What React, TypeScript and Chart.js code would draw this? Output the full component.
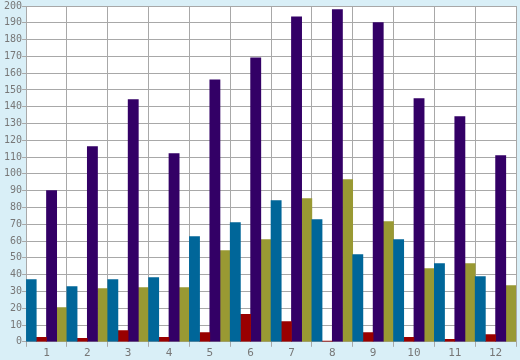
import React, { useEffect, useRef } from "react";
import { Chart, registerables } from "chart.js";

Chart.register(...registerables);

const categories = ["1", "2", "3", "4", "5", "6", "7", "8", "9", "10", "11", "12"];
const tealValues = [37.1, 32.9, 37.1, 38.3, 62.7, 71.0, 84.1, 72.8, 52.0, 60.9, 46.6, 38.9];
const redValues = [2.7, 2.0, 6.7, 2.7, 5.5, 16.3, 12.1, 0.4, 5.5, 2.6, 1.4, 4.3];
const purpleValues = [90.0, 116.2, 144.2, 112.1, 156.1, 169.2, 193.6, 197.8, 190.1, 144.8, 134.1, 110.9];
const oliveValues = [20.4, 31.7, 32.3, 32.3, 54.3, 60.9, 85.3, 96.6, 71.6, 43.6, 46.6, 33.5];
const yMin = 0;
const yMax = 200;
const yStep = 10;

const bgPlugin = {
  id: "bgPlugin",
  beforeDraw(chart: any) {
    const { ctx, chartArea, width, height } = chart;
    ctx.save();
    ctx.fillStyle = "#d9eff7";
    ctx.fillRect(0, 0, width, height);
    ctx.fillStyle = "#ffffff";
    ctx.fillRect(chartArea.left, chartArea.top, chartArea.right - chartArea.left, chartArea.bottom - chartArea.top);
    ctx.restore();
  },
};

export default function App() {
  const ref = useRef<HTMLCanvasElement>(null);
  useEffect(() => {
    document.body.style.margin = "0";
    const font = { family: "'DejaVu Sans Mono', monospace", size: 10 };
    const chart = new Chart(ref.current!, {
      type: "bar",
      data: {
        labels: categories,
        datasets: [
          { data: tealValues, backgroundColor: "#006699" },
          { data: redValues, backgroundColor: "#990000" },
          { data: purpleValues, backgroundColor: "#330066" },
          { data: oliveValues, backgroundColor: "#999933" },
        ],
      },
      options: {
        animation: false,
        responsive: false,
        devicePixelRatio: 1,
        layout: { padding: { top: -1, right: 4, bottom: 0, left: 4 } },
        plugins: { legend: { display: false }, tooltip: { enabled: false } },
        datasets: { bar: { barPercentage: 1, categoryPercentage: 1 } },
        scales: {
          x: {
            offset: true,
            grid: { offset: true, color: "#a8a8a8", lineWidth: 1, tickLength: 5, drawTicks: true },
            border: { color: "#a8a8a8" },
            ticks: { color: "#777777", font: { ...font, size: 11 }, padding: 0 },
          },
          y: {
            min: yMin,
            max: yMax,
            grid: { color: "#a8a8a8", lineWidth: 1, tickLength: 4 },
            border: { color: "#a8a8a8" },
            ticks: { stepSize: yStep, color: "#777777", font, padding: 0 },
          },
        },
      },
      plugins: [bgPlugin],
    });
    return () => chart.destroy();
  }, []);
  return (
    <div style={{ position: "absolute", left: 0, top: 0, width: 520, height: 360 }}>
      <canvas ref={ref} width={520} height={360} />
    </div>
  );
}
